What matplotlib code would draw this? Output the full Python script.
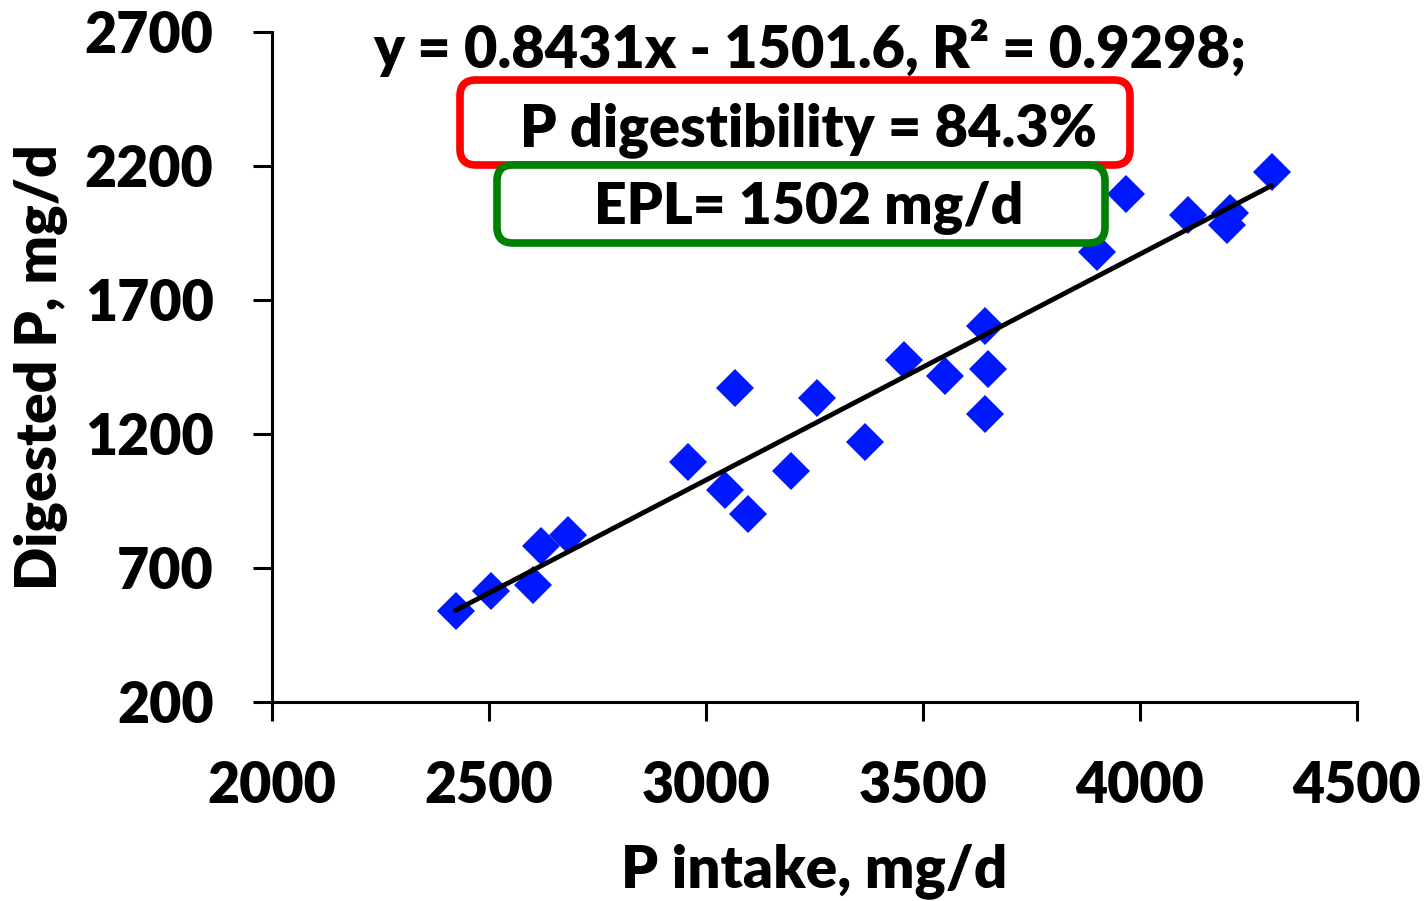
import numpy as np
import matplotlib
matplotlib.use("Agg")
from matplotlib import pyplot as plt
from matplotlib.patches import FancyBboxPatch

# P intake vs digested P
p_intake = [2423, 2504, 2601, 2619, 2683, 2959, 3045, 3068, 3098, 3195, 3255, 3366,
            3457, 3551, 3644, 3650, 3644, 3902, 3967, 4111, 4207, 4200, 4304]
p_digested = [539, 612, 637, 780, 824, 1096, 992, 1373, 902, 1063, 1333, 1170,
              1476, 1416, 1603, 1441, 1273, 1878, 2094, 2018, 2025, 1981, 2176]
slope = 0.8431
intercept = -1501.6
x_ticks = [2000, 2500, 3000, 3500, 4000, 4500]
y_ticks = [200, 700, 1200, 1700, 2200, 2700]

FONT = "Lato"
W = "heavy"
plt.rcParams["font.family"] = [FONT, "DejaVu Sans"]
plt.rcParams["font.weight"] = W

fig = plt.figure(figsize=(14.26, 9.01), dpi=100)
ax = fig.add_axes([0.1907, 0.2210, 0.7608, 0.7435])

ax.plot(p_intake, p_digested, linestyle="none", marker="D", markersize=19,
        color="#0018FF", markeredgewidth=0, zorder=3)

x_fit = np.array([min(p_intake), max(p_intake)])
ax.plot(x_fit, slope * x_fit + intercept, color="black", lw=3.5,
        solid_capstyle="round", zorder=4)

ax.set_xlim(2000, 4500)
ax.set_ylim(200, 2700)
ax.set_xticks(x_ticks)
ax.set_yticks(y_ticks)
ax.spines["top"].set_visible(False)
ax.spines["right"].set_visible(False)
for s in ["left", "bottom"]:
    ax.spines[s].set_linewidth(2.2)
ax.tick_params(direction="out", length=14, width=2.2, labelsize=40, pad=28)
for lab in ax.get_xticklabels() + ax.get_yticklabels():
    lab.set_fontweight(W)

ax.set_xlabel("P intake, mg/d", fontsize=42, fontweight=W, labelpad=22)
ax.set_ylabel("Digested P, mg/d", fontsize=41, fontweight=W, labelpad=12)

# annotation boxes, placed in figure inches
tr = fig.dpi_scale_trans
fig.text(8.10, 8.53, "y = 0.8431x - 1501.6, R\u00b2 = 0.9298;", transform=tr,
         ha="center", va="center", fontsize=41.5, fontweight=W, zorder=6)
red = FancyBboxPatch((4.60, 7.36), 6.70, 0.85, boxstyle="round,pad=0,rounding_size=0.16",
                     transform=tr, fc="white", ec="#FF0000", lw=5.5, zorder=5)
green = FancyBboxPatch((4.97, 6.58), 6.08, 0.78, boxstyle="round,pad=0,rounding_size=0.16",
                       transform=tr, fc="white", ec="#008000", lw=5.5, zorder=5)
fig.patches.extend([red, green])
fig.text(8.08, 7.71, "P digestibility = 84.3%", transform=tr,
         ha="center", va="center", fontsize=41.5, fontweight=W, zorder=6)
fig.text(8.09, 6.93, "EPL= 1502 mg/d", transform=tr,
         ha="center", va="center", fontsize=41, fontweight=W, zorder=6)

fig.savefig("out.png", dpi=100)
